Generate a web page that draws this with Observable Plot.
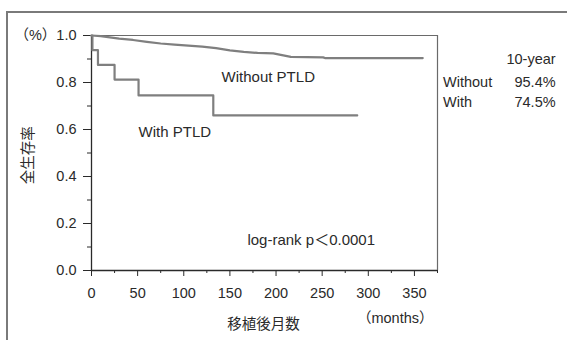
<!DOCTYPE html>
<html>
<head>
<meta charset="utf-8">
<script src="https://cdn.jsdelivr.net/npm/d3@7"></script>
<script src="https://cdn.jsdelivr.net/npm/@observablehq/plot@0.6"></script>
<style>
  html, body { margin: 0; padding: 0; background: #fff; }
  #wrap { position: relative; width: 567px; height: 340px; overflow: hidden; }
</style>
</head>
<body>
<div id="wrap"></div>
<script>
// ---- data ----
const withoutMonths = [0, 10, 20, 30, 45, 60, 75, 90, 105, 120, 135, 150, 165, 180, 197, 216, 251, 253, 300, 359];
const withoutSurv   = [1.0, 0.997, 0.992, 0.987, 0.981, 0.973, 0.966, 0.961, 0.957, 0.953, 0.946, 0.937, 0.930, 0.926, 0.924, 0.909, 0.907, 0.904, 0.904, 0.904];
const withMonths = [0, 1, 7, 25, 51, 132, 288];
const withSurv   = [1.0, 0.9375, 0.875, 0.8125, 0.745, 0.66, 0.66];

const xTicks = [0, 50, 100, 150, 200, 250, 300, 350];
const xMinorTicks = [25, 75, 125, 175, 225, 275, 325, 375];
const yTicks = [0, 0.2, 0.4, 0.6, 0.8, 1.0];
const yMinorTicks = [0.1, 0.3, 0.5, 0.7, 0.9];

const curveLabels = ["Without PTLD", "With PTLD", "log-rank p＜0.0001"];
const curveLabelX = [141, 51, 169];
const curveLabelY = [0.821, 0.587, 0.128];

const tableHeader = "10-year";
const tableGroups = ["Without", "With"];
const tableValues = ["95.4%", "74.5%"];

const xLabel = "移植後月数";
const xUnit = "（months）";
const yLabel = "全生存率";
const yUnit = "（%）";

// ---- build ----
const xMax = 375;
const withoutData = withoutMonths.map((m, i) => ({m, s: withoutSurv[i]}));
const withData = withMonths.map((m, i) => ({m, s: withSurv[i]}));
const labelData = curveLabels.map((t, i) => ({t, x: curveLabelX[i], y: curveLabelY[i]}));

const font = "'Liberation Sans', Arial, 'Noto Sans CJK JP', sans-serif";
const grey = "#7f7f7f";
const ink = "#2a2a2a";

const tableRowY = [0.801, 0.716];
const tableRight = [{t: tableHeader, y: 0.898}].concat(tableValues.map((t, i) => ({t, y: tableRowY[i]})));
const tableLeft = tableGroups.map((t, i) => ({t, y: tableRowY[i]}));

const chart = Plot.plot({
  width: 567,
  height: 340,
  marginLeft: 91,
  marginRight: 130,
  marginTop: 35,
  marginBottom: 70,
  style: {fontFamily: font, fontSize: "14.5px", color: ink, background: "#fff"},
  x: {domain: [0, xMax]},
  y: {domain: [0, 1]},
  marks: [
    Plot.ruleY([1], {stroke: "#6a6a6a", strokeWidth: 1.2}),
    Plot.ruleX([xMax], {stroke: "#6a6a6a", strokeWidth: 1.2}),
    Plot.axisX({ticks: xMinorTicks, tickSize: 3, tickFormat: () => "", stroke: ink, label: null}),
    Plot.axisX({ticks: xTicks, tickSize: 6, tickPadding: 11, tickFormat: d => String(d), stroke: ink, fill: ink, label: null, fontSize: 14.5}),
    Plot.axisY({ticks: yMinorTicks, tickSize: 4, tickFormat: () => "", stroke: ink, label: null}),
    Plot.axisY({ticks: yTicks, tickSize: 8, tickPadding: 7, stroke: ink, fill: ink, label: null, fontSize: 14.5,
      tickFormat: d => d === 1 ? yUnit + "1.0" : d.toFixed(1)}),
    Plot.ruleX([0], {stroke: ink, strokeWidth: 1.3}),
    Plot.ruleY([0], {stroke: ink, strokeWidth: 1.3}),
    Plot.line(withoutData, {x: "m", y: "s", stroke: grey, strokeWidth: 2.2}),
    Plot.line(withData, {x: "m", y: "s", stroke: grey, strokeWidth: 2.2, curve: "step-after"}),
    Plot.text(labelData, {x: "x", y: "y", text: "t", textAnchor: "start", fill: ink, fontSize: 15}),
    Plot.text(tableRight, {x: () => 503, y: "y", text: "t", textAnchor: "end", fill: ink, fontSize: 14.5}),
    Plot.text(tableLeft, {x: () => 381, y: "y", text: "t", textAnchor: "start", fill: ink, fontSize: 14.5}),
    Plot.text([xLabel], {frameAnchor: "bottom", dy: 58, dx: -1, fill: ink, fontSize: 14.5}),
    Plot.text([xUnit], {frameAnchor: "bottom-right", dy: 52, dx: -4, textAnchor: "end", fill: ink, fontSize: 14.5}),
    Plot.text([yLabel], {x: () => -68, y: () => 0.49, rotate: -90, fill: ink, fontSize: 14.5})
  ]
});

// decorative outer panel border (top and left edges, as in the cropped original)
d3.select(chart).append("path")
  .attr("d", "M7,340V12H567")
  .attr("fill", "none")
  .attr("stroke", "#7a7a7a")
  .attr("stroke-width", 2);

document.getElementById("wrap").appendChild(chart);
</script>
</body>
</html>
